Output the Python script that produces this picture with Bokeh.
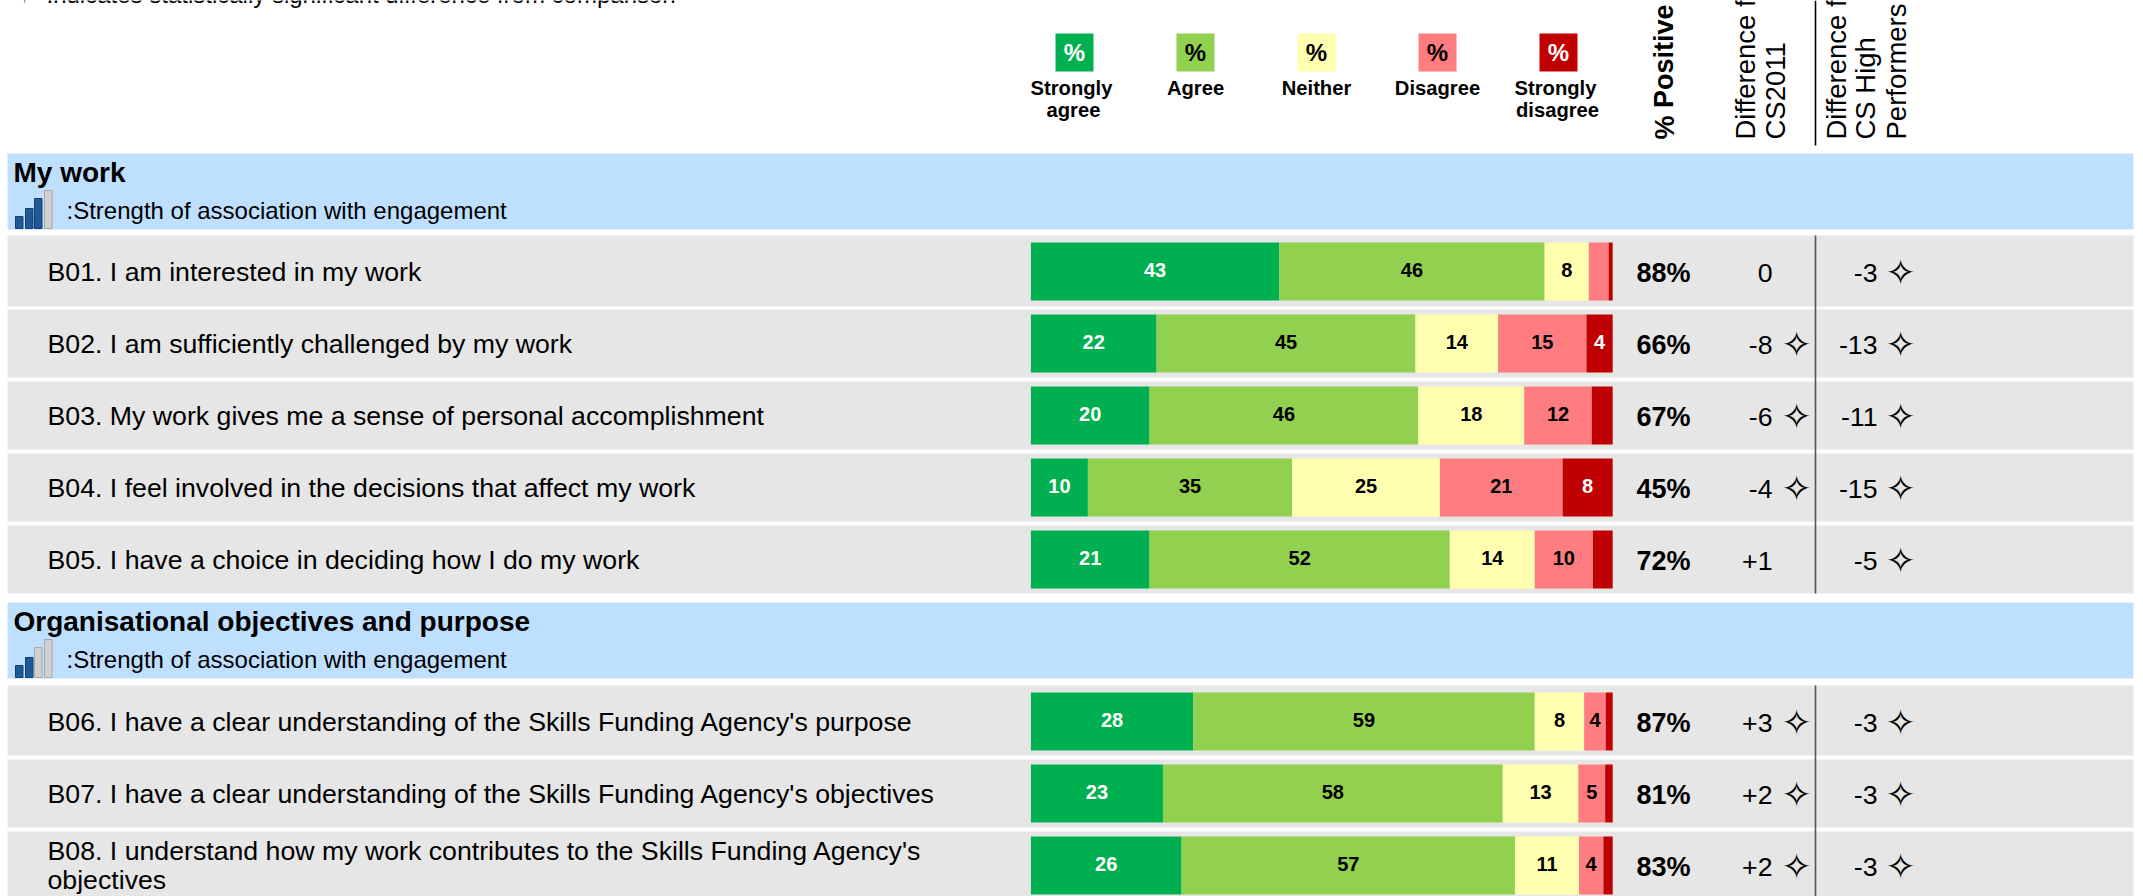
from bokeh.plotting import figure
from bokeh.models import Range1d, ColumnDataSource
from bokeh.embed import file_html
from bokeh.resources import INLINE
from bokeh.core.properties import value

# ---------- data ----------
sections = ["My work", "Organisational objectives and purpose"]
section_strength = [3, 2]
strength_note = ":Strength of association with engagement"
note_top = "Indicates statistically significant difference from comparison"
questions = [
    ["B01. I am interested in my work"],
    ["B02. I am sufficiently challenged by my work"],
    ["B03. My work gives me a sense of personal accomplishment"],
    ["B04. I feel involved in the decisions that affect my work"],
    ["B05. I have a choice in deciding how I do my work"],
    ["B06. I have a clear understanding of the Skills Funding Agency's purpose"],
    ["B07. I have a clear understanding of the Skills Funding Agency's objectives"],
    ["B08. I understand how my work contributes to the Skills Funding Agency's", "objectives"],
]
strongly_agree = [42.7, 21.6, 20.4, 9.8, 20.4, 27.9, 22.7, 25.9]
agree = [45.6, 44.5, 46.2, 35.1, 51.6, 58.7, 58.4, 57.3]
neither = [7.6, 14.2, 18.2, 25.4, 14.6, 8.5, 13.0, 11.0]
disagree = [3.4, 15.2, 11.6, 21.1, 10.0, 3.7, 4.6, 4.2]
strongly_disagree = [0.7, 4.5, 3.6, 8.6, 3.4, 1.2, 1.3, 1.6]
lab_sa = ["43", "22", "20", "10", "21", "28", "23", "26"]
lab_a = ["46", "45", "46", "35", "52", "59", "58", "57"]
lab_n = ["8", "14", "18", "25", "14", "8", "13", "11"]
lab_d = ["", "15", "12", "21", "10", "4", "5", "4"]
lab_sd = ["", "4", "", "8", "", "", "", ""]
positive = ["88%", "66%", "67%", "45%", "72%", "87%", "81%", "83%"]
diff_cs2011 = ["0", "-8", "-6", "-4", "+1", "+3", "+2", "+2"]
sig_cs2011 = [False, True, True, True, False, True, True, True]
diff_high = ["-3", "-13", "-11", "-15", "-5", "-3", "-3", "-3"]
sig_high = [True] * 8
legend_labels = [["Strongly", "agree"], ["Agree"], ["Neither"], ["Disagree"], ["Strongly", "disagree"]]
colors = ["#00B050", "#92D050", "#FFFFAF", "#FF7C80", "#C00000"]
text_colors = ["white", "black", "black", "black", "white"]
head_positive = "% Positive"
head_cs2011 = ["Difference from", "CS2011"]
head_high = ["Difference from", "CS High", "Performers"]
star = "\u2727"

# ---------- layout ----------
W, H = 2143, 896
X0, X100 = 1030.4, 1612.2
scale = (X100 - X0) / 100
FONT = value("Liberation Sans")
STAR_FONT = value("DejaVu Sans")

p = figure(width=W, height=H, output_backend="svg", toolbar_location=None,
           x_range=Range1d(-X0 / scale, (W - X0) / scale), y_range=Range1d(H, 0),
           x_axis_location=None, y_axis_location=None, min_border=0,
           margin=(0, -8, -8, 0), outline_line_color=None, background_fill_color="white")
p.grid.visible = False
p.extra_x_ranges = {"px": Range1d(0, W)}


def txt(x, y, s, size, bold=False, color="black", align="left", base="middle", angle=0, font=FONT, **kw):
    if not isinstance(x, list):
        x, y, s = [x], [y], [s]
    p.text(x=x, y=y, text=s, x_range_name="px", text_font=font,
           text_font_size=f"{size}px", text_font_style="bold" if bold else "normal",
           text_color=color, text_align=align, text_baseline=base, angle=angle, **kw)


def box(l, r, t, b, color, line=None):
    p.quad(left=l, right=r, top=t, bottom=b, x_range_name="px", fill_color=color,
           line_color=line)


bar_tops = [242, 314, 386, 458, 530, 692, 764, 836]
BAR_H = 58
centers = [t + BAR_H / 2 for t in bar_tops]
grey_top = [t - 5 for t in bar_tops]
grey_top[0] = 235
grey_top[5] = 685
grey_bottom = [t + BAR_H + 5 for t in bar_tops]
grey_bottom[0] = 306
grey_bottom[7] = H
band_tops = [153, 602]
BAND_H = 76
L, R = 7, 2133

# header note (clipped by the top of the page, as in the source)
txt(24, -9, star, 36, font=STAR_FONT, align="center")
txt(46, -6, note_top, 24)

# bands
for top, name, n in zip(band_tops, sections, section_strength):
    box(L, R, top, top + BAND_H, "#BFDFFF")
    txt(13, top + 18.5, name, 28, bold=True)
    txt(66, top + 56.5, strength_note, 24)
    bottom = top + BAND_H - 1
    for i, (l, h) in enumerate(zip([15, 25, 34, 44], [12, 20, 30, 38])):
        box(l, l + 7.5, bottom - h, bottom, "#1F5A96" if i < n else "#D0D0D0",
            "#123F6E" if i < n else "#A8A8A8")

# grey rows
for t, b in zip(grey_top, grey_bottom):
    box(L, R, t, b, "#E6E6E6")

# stacked bars
series = [strongly_agree, agree, neither, disagree, strongly_disagree]
labels = [lab_sa, lab_a, lab_n, lab_d, lab_sd]
lefts = [0.0] * len(centers)
for vals, lab, col, tcol in zip(series, labels, colors, text_colors):
    rights = [a + v for a, v in zip(lefts, vals)]
    src = ColumnDataSource(dict(y=centers, left=lefts, right=rights, lab=lab,
                                mid=[(a + b) / 2 for a, b in zip(lefts, rights)],
                                ty=[c - 2 for c in centers]))
    p.hbar(y="y", left="left", right="right", height=BAR_H, source=src,
           fill_color=col, line_color=None)
    p.text(x="mid", y="ty", text="lab", source=src, text_align="center", text_baseline="middle",
           text_color=tcol, text_font=FONT, text_font_style="bold", text_font_size="20px")
    lefts = rights

# question texts
for c, q in zip(centers, questions):
    if len(q) == 1:
        txt(47, c, q[0], 26.7)
    else:
        txt(47, c - 15, q[0], 26.7)
        txt(47, c + 14, q[1], 26.7)

# value columns
ty = [c + 1 for c in centers]
txt([1663] * 8, ty, positive, 27, bold=True, align="center")
txt([1772] * 8, ty, diff_cs2011, 26.7, align="right")
txt([1877] * 8, ty, diff_high, 26.7, align="right")
for c, a, b in zip(ty, sig_cs2011, sig_high):
    if a:
        txt(1796, c, star, 36, align="center", font=STAR_FONT)
    if b:
        txt(1900, c, star, 36, align="center", font=STAR_FONT)

# vertical separator
for y0, y1, col in [(0, 145, "black"), (235, 593, "#555555"), (685, H, "#555555")]:
    p.segment(x0=[1815], x1=[1815], y0=[y0], y1=[y1], x_range_name="px", line_color=col, line_width=1.6)

# legend
for x, col, tcol, lab in zip([1074, 1195, 1316, 1437, 1558], colors, text_colors, legend_labels):
    box(x - 19, x + 19, 33, 71, col)
    txt(x, 52, "%", 24, bold=True, color=tcol, align="center")
    for i, line in enumerate(lab):
        shift = -3 if line == "Strongly" else (-1 if line in ("agree", "disagree") else 0)
        txt(x + shift, 87 + 22 * i, line, 20.2, bold=True, align="center")

# rotated headers
txt(1664, 139, head_positive, 27, bold=True, angle=1.5708, base="middle")
for x, s in zip([1745, 1775], head_cs2011):
    txt(x, 139, s, 27.5, angle=1.5708)
for x, s in zip([1836, 1865, 1896], head_high):
    txt(x, 139, s, 27.5, angle=1.5708)

open("out.html", "w").write(file_html(p, INLINE))
